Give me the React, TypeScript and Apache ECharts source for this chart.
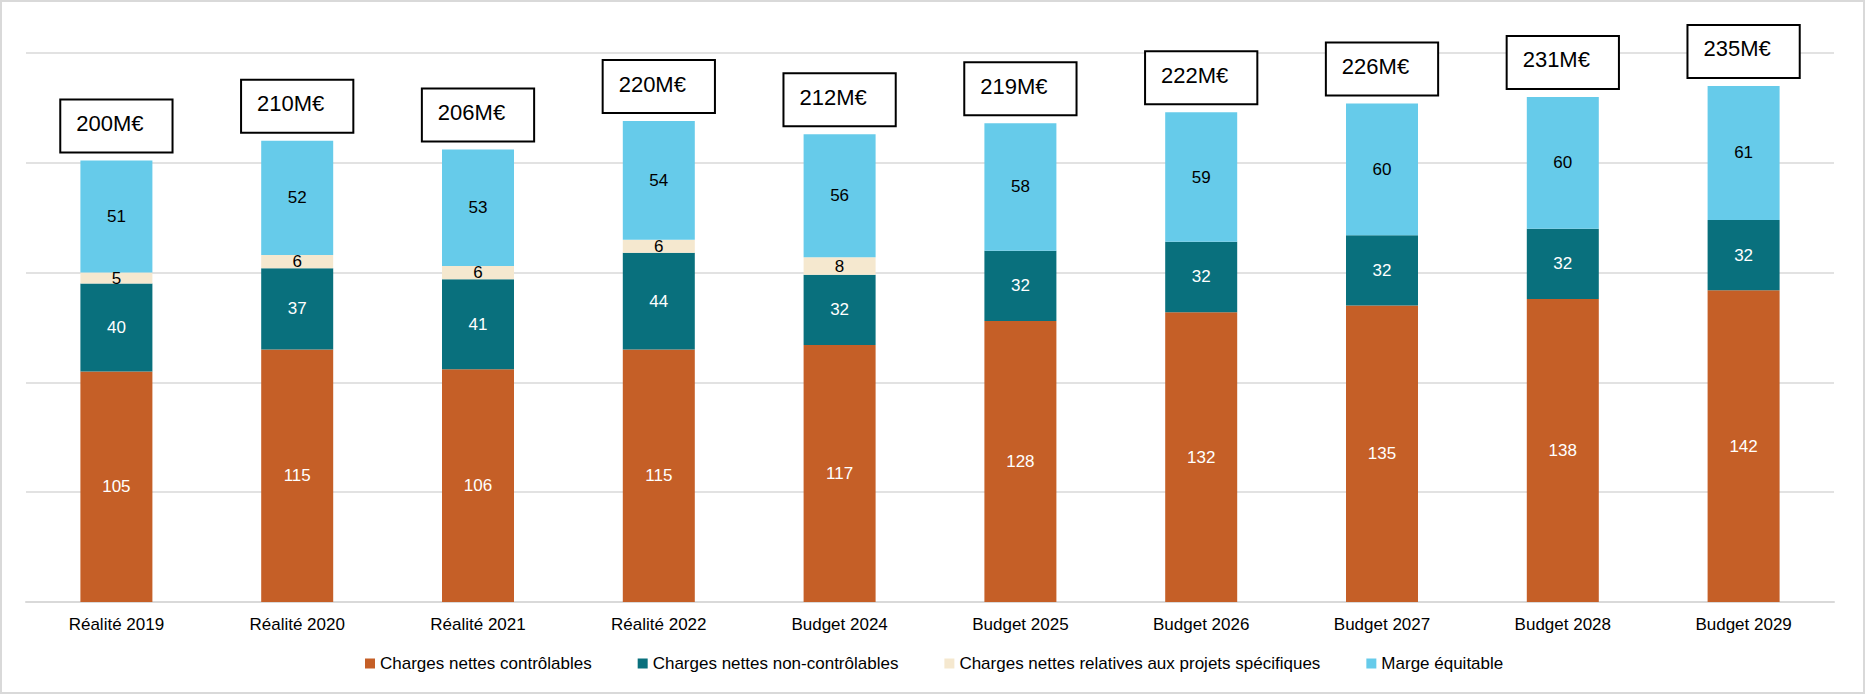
import React, { useEffect, useRef } from "react";
import * as echarts from "echarts";

const categories = [
  "Réalité 2019",
  "Réalité 2020",
  "Réalité 2021",
  "Réalité 2022",
  "Budget 2024",
  "Budget 2025",
  "Budget 2026",
  "Budget 2027",
  "Budget 2028",
  "Budget 2029",
];
const chargesControlables = [105, 115, 106, 115, 117, 128, 132, 135, 138, 142];
const chargesNonControlables = [40, 37, 41, 44, 32, 32, 32, 32, 32, 32];
const chargesProjets = [5, 6, 6, 6, 8, 0, 0, 0, 0, 0];
const margeEquitable = [51, 52, 53, 54, 56, 58, 59, 60, 60, 61];
const totals = [200, 210, 206, 220, 212, 219, 222, 226, 231, 235];
const totalCarrier = [0, 0, 0, 0, 0, 0, 0, 0, 0, 0];

const seriesNames = [
  "Charges nettes contrôlables",
  "Charges nettes non-contrôlables",
  "Charges nettes relatives aux projets spécifiques",
  "Marge équitable",
];

const FONT = "'Liberation Sans', Arial, sans-serif";

export default function App() {
  const ref = useRef<HTMLDivElement>(null);

  useEffect(() => {
    if (!ref.current) return;
    const chart = echarts.init(ref.current, undefined, { renderer: "svg" });
    const insideLabel = (color: string) => ({
      show: true,
      position: "inside",
      color,
      fontSize: 17,
      fontFamily: FONT,
      formatter: (p: any) => (p.value ? String(p.value) : ""),
    });
    chart.setOption({
      animation: false,
      backgroundColor: "#ffffff",
      textStyle: { fontFamily: FONT },
      grid: { left: 26, right: 36, top: 53, bottom: 93, containLabel: false },
      legend: {
        data: seriesNames,
        left: 365,
        top: 655,
        padding: 0,
        itemWidth: 10,
        itemHeight: 10,
        itemGap: 46,
        icon: "rect",
        textStyle: { fontSize: 17, color: "#000000", fontFamily: FONT },
      },
      xAxis: {
        type: "category",
        data: categories,
        axisTick: { show: false },
        axisLine: { lineStyle: { color: "#D9D9D9", width: 2 } },
        axisLabel: { color: "#000000", fontSize: 17, margin: 14, fontFamily: FONT },
      },
      yAxis: {
        type: "value",
        min: 0,
        max: 250,
        interval: 50,
        axisLabel: { show: false },
        axisLine: { show: false },
        axisTick: { show: false },
        splitLine: { lineStyle: { color: "#D9D9D9", width: 1.5 } },
      },
      graphic: [
        {
          type: "rect",
          shape: { x: 1, y: 1, width: 1863, height: 692 },
          style: { fill: "none", stroke: "#D9D9D9", lineWidth: 2 },
          silent: true,
          z: 100,
        },
      ],
      series: [
        {
          name: seriesNames[0],
          type: "bar",
          stack: "total",
          barWidth: 72,
          data: chargesControlables,
          itemStyle: { color: "#C55F27" },
          label: insideLabel("#FFFFFF"),
        },
        {
          name: seriesNames[1],
          type: "bar",
          stack: "total",
          barWidth: 72,
          data: chargesNonControlables,
          itemStyle: { color: "#09707D" },
          label: insideLabel("#FFFFFF"),
        },
        {
          name: seriesNames[2],
          type: "bar",
          stack: "total",
          barWidth: 72,
          data: chargesProjets,
          itemStyle: { color: "#F5E8CF" },
          label: insideLabel("#000000"),
        },
        {
          name: seriesNames[3],
          type: "bar",
          stack: "total",
          barWidth: 72,
          data: margeEquitable,
          itemStyle: { color: "#66CBEA" },
          label: insideLabel("#000000"),
        },
        {
          name: "Total",
          type: "bar",
          stack: "total",
          barWidth: 72,
          data: totalCarrier,
          itemStyle: { color: "transparent" },
          label: {
            show: true,
            position: "top",
            distance: 9,
            formatter: (p: any) => totals[p.dataIndex] + "M€",
            color: "#000000",
            fontSize: 22,
            lineHeight: 22,
            fontFamily: FONT,
            borderColor: "#000000",
            borderWidth: 2,
            backgroundColor: "#FFFFFF",
            padding: [12, 28, 17, 15],
          },
        },
      ],
    });
    return () => chart.dispose();
  }, []);

  return (
    <div
      style={{ position: "absolute", left: 0, top: 0, width: 1870, height: 695, background: "#fff" }}
    >
      <div ref={ref} style={{ width: 1870, height: 695 }} />
    </div>
  );
}
